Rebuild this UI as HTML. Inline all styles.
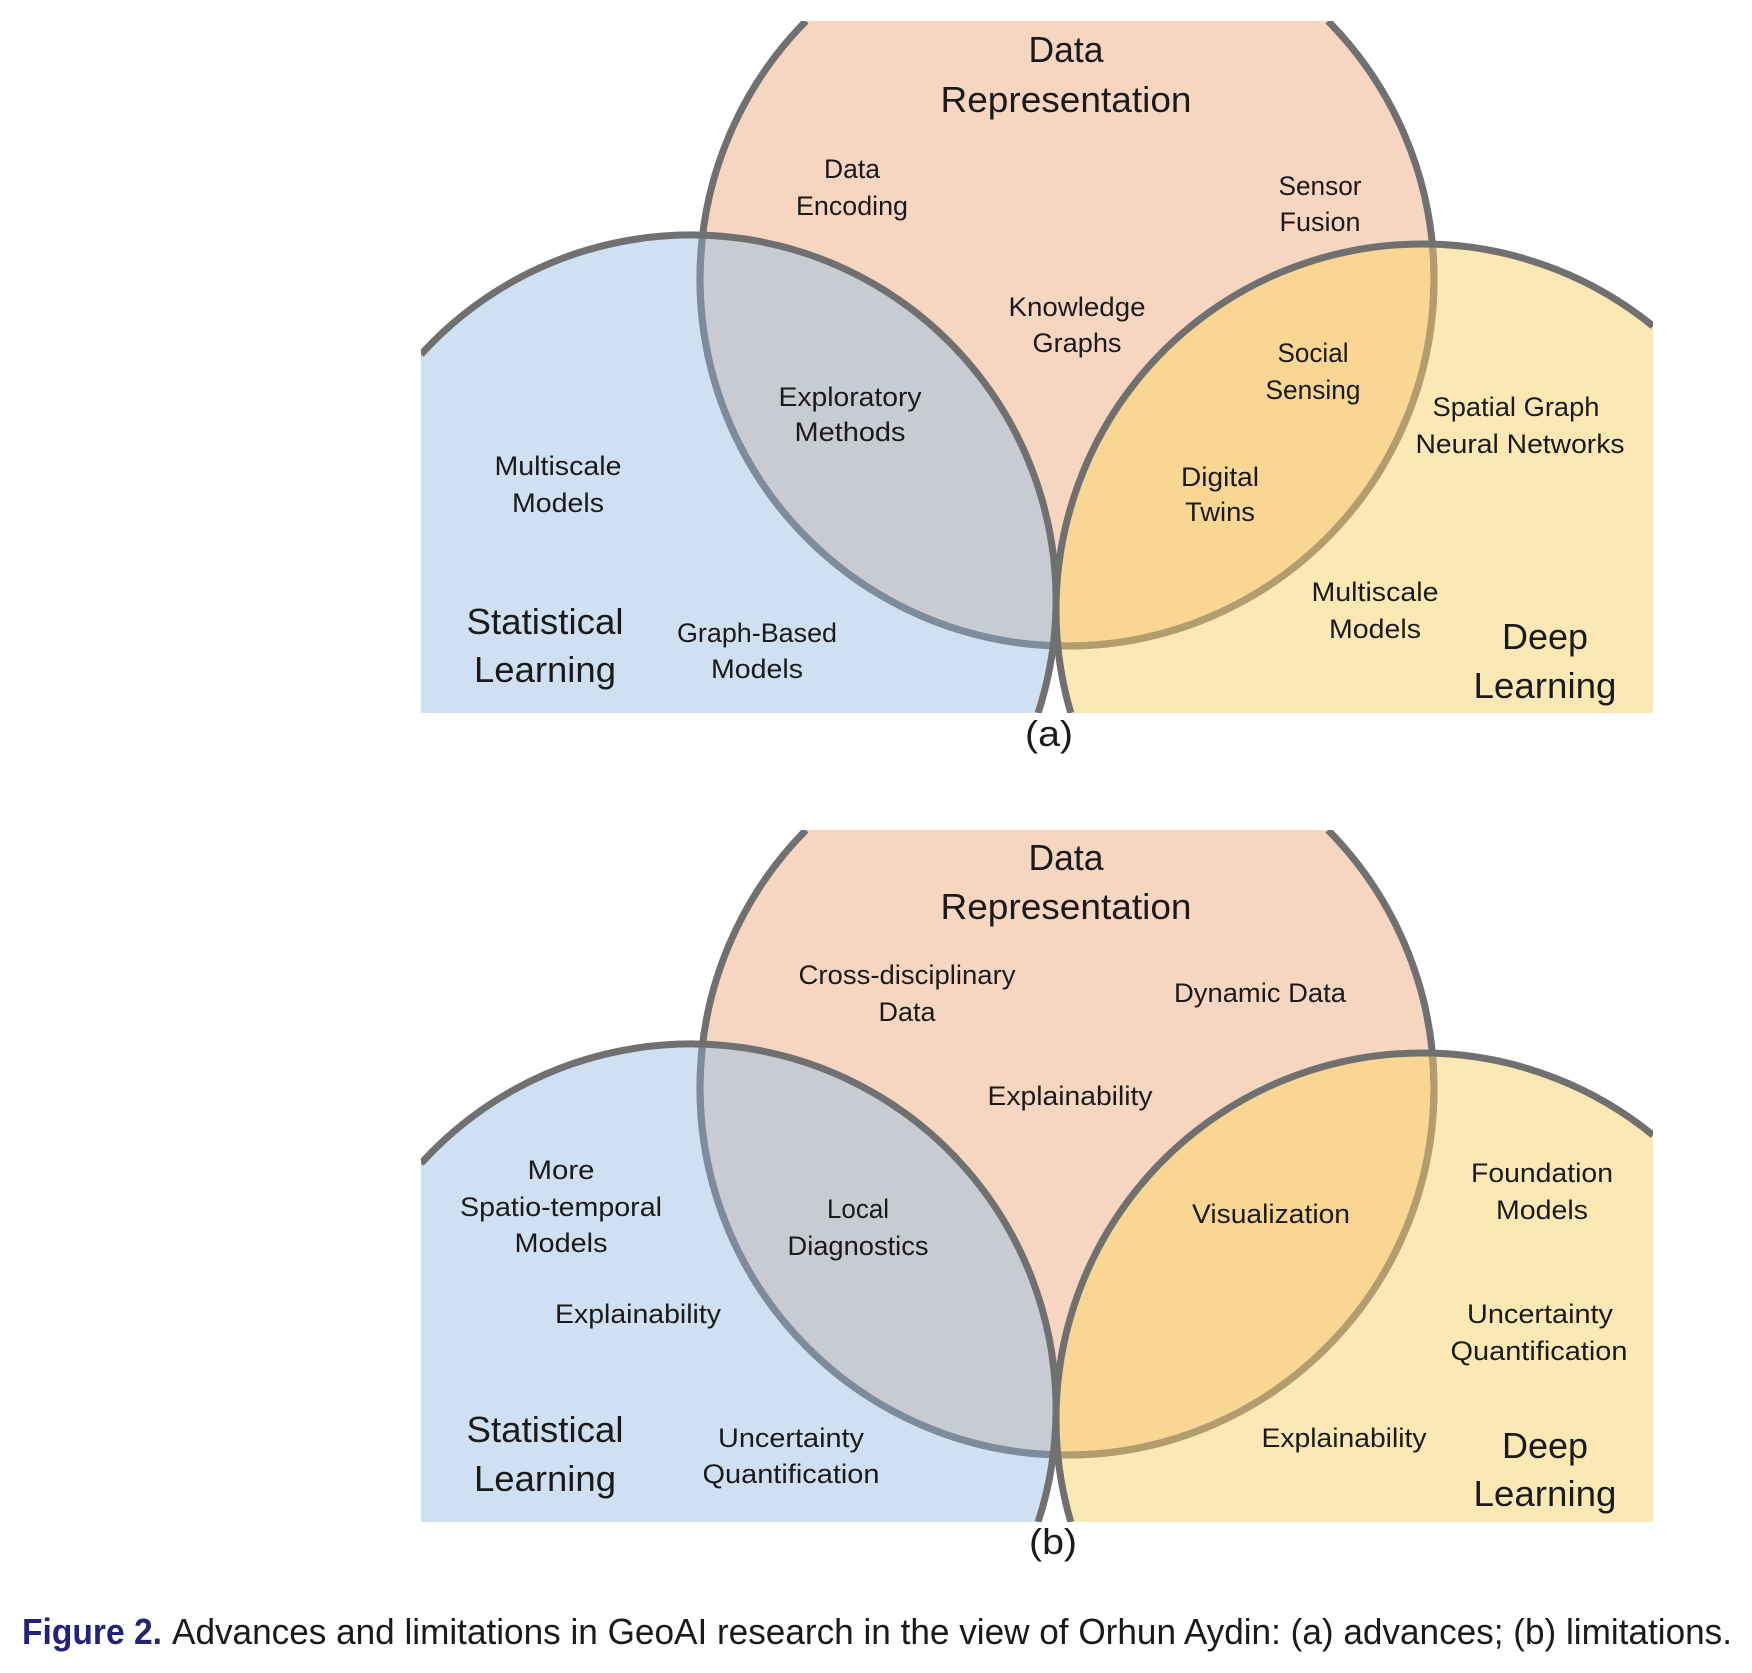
<!DOCTYPE html>
<html>
<head>
<meta charset="utf-8">
<style>
  html, body { margin: 0; padding: 0; background: #ffffff; width: 1752px; height: 1673px; overflow: hidden; }
  svg { display: block; }
  text { font-family: "Liberation Sans", "DejaVu Sans", sans-serif; fill: #1a1a1a; }
  .s { font-size: 27px; }
  .l { font-size: 36px; }
</style>
</head>
<body>
<svg width="1752" height="1673" viewBox="0 0 1752 1673" xmlns="http://www.w3.org/2000/svg">
  <defs>
    <clipPath id="cr"><rect x="421" y="21" width="1232" height="692"/></clipPath>
    <g id="venn">
      <g clip-path="url(#cr)">
        <!-- fills -->
        <path d="M806,21 A367,367 0 1 0 1328,21 Z" fill="#f7d6c1"/>
        <path d="M421,354.4 A365,365 0 0 1 1038.1,713 L421,713 Z" fill="#cee0f1"/>
        <path d="M1070.8,713 A366,366 0 0 1 1653,326.1 L1653,713 Z" fill="#fce8b3"/>
        <path d="M702.7,235.2 A365,365 0 0 1 1053.1,645.8 A367,367 0 0 1 702.7,235.2 Z" fill="#c8cbd1"/>
        <path d="M1432.3,244.1 A367,367 0 0 1 1057.7,645.9 A366,366 0 0 1 1432.3,244.1 Z" fill="#f9d692"/>
        <!-- top circle outline -->
        <path d="M806,21 A367,367 0 1 0 1328,21" fill="none" stroke="#707070" stroke-width="7"/>
        <path d="M702.7,235.2 A367,367 0 0 0 1053.1,645.8" fill="none" stroke="#7d8b9c" stroke-width="7"/>
        <path d="M1057.7,645.9 A367,367 0 0 0 1432.3,244.1" fill="none" stroke="#b39d6c" stroke-width="7"/>
        <!-- blue & yellow outlines -->
        <path d="M421,354.4 A365,365 0 0 1 1038.1,713" fill="none" stroke="#707070" stroke-width="7"/>
        <path d="M1070.8,713 A366,366 0 0 1 1653,326.1" fill="none" stroke="#707070" stroke-width="7"/>
      </g>
    </g>
  </defs>

  <!-- Panel (a) -->
  <use href="#venn" x="0" y="0"/>
  <g text-anchor="middle">
    <text class="l" x="1066" y="62" textLength="75" lengthAdjust="spacingAndGlyphs">Data</text>
    <text class="l" x="1066" y="112" textLength="251" lengthAdjust="spacingAndGlyphs">Representation</text>

    <text class="s" x="852" y="178" textLength="56" lengthAdjust="spacingAndGlyphs">Data</text>
    <text class="s" x="852" y="215" textLength="112" lengthAdjust="spacingAndGlyphs">Encoding</text>

    <text class="s" x="1320" y="195" textLength="83" lengthAdjust="spacingAndGlyphs">Sensor</text>
    <text class="s" x="1320" y="231" textLength="81" lengthAdjust="spacingAndGlyphs">Fusion</text>

    <text class="s" x="1077" y="316" textLength="137" lengthAdjust="spacingAndGlyphs">Knowledge</text>
    <text class="s" x="1077" y="352" textLength="89" lengthAdjust="spacingAndGlyphs">Graphs</text>

    <text class="s" x="850" y="406" textLength="143" lengthAdjust="spacingAndGlyphs">Exploratory</text>
    <text class="s" x="850" y="441" textLength="111" lengthAdjust="spacingAndGlyphs">Methods</text>

    <text class="s" x="1313" y="362" textLength="71" lengthAdjust="spacingAndGlyphs">Social</text>
    <text class="s" x="1313" y="399" textLength="95" lengthAdjust="spacingAndGlyphs">Sensing</text>

    <text class="s" x="1516" y="416" textLength="167" lengthAdjust="spacingAndGlyphs">Spatial Graph</text>
    <text class="s" x="1520" y="453" textLength="209" lengthAdjust="spacingAndGlyphs">Neural Networks</text>

    <text class="s" x="558" y="475" textLength="127" lengthAdjust="spacingAndGlyphs">Multiscale</text>
    <text class="s" x="558" y="512" textLength="92" lengthAdjust="spacingAndGlyphs">Models</text>

    <text class="s" x="1220" y="486" textLength="78" lengthAdjust="spacingAndGlyphs">Digital</text>
    <text class="s" x="1220" y="521" textLength="70" lengthAdjust="spacingAndGlyphs">Twins</text>

    <text class="s" x="1375" y="601" textLength="127" lengthAdjust="spacingAndGlyphs">Multiscale</text>
    <text class="s" x="1375" y="638" textLength="92" lengthAdjust="spacingAndGlyphs">Models</text>

    <text class="l" x="545" y="634" textLength="157" lengthAdjust="spacingAndGlyphs">Statistical</text>
    <text class="l" x="545" y="682" textLength="142" lengthAdjust="spacingAndGlyphs">Learning</text>

    <text class="s" x="757" y="642" textLength="160" lengthAdjust="spacingAndGlyphs">Graph-Based</text>
    <text class="s" x="757" y="678" textLength="92" lengthAdjust="spacingAndGlyphs">Models</text>

    <text class="l" x="1545" y="649" textLength="86" lengthAdjust="spacingAndGlyphs">Deep</text>
    <text class="l" x="1545" y="698" textLength="143" lengthAdjust="spacingAndGlyphs">Learning</text>

    <text x="1049" y="746" style="font-size:36px" textLength="48" lengthAdjust="spacingAndGlyphs">(a)</text>
  </g>

  <!-- Panel (b) -->
  <use href="#venn" x="0" y="809"/>
  <g text-anchor="middle">
    <text class="l" x="1066" y="870" textLength="75" lengthAdjust="spacingAndGlyphs">Data</text>
    <text class="l" x="1066" y="919" textLength="251" lengthAdjust="spacingAndGlyphs">Representation</text>

    <text class="s" x="907" y="984" textLength="217" lengthAdjust="spacingAndGlyphs">Cross-disciplinary</text>
    <text class="s" x="907" y="1021" textLength="57" lengthAdjust="spacingAndGlyphs">Data</text>

    <text class="s" x="1260" y="1002" textLength="172" lengthAdjust="spacingAndGlyphs">Dynamic Data</text>

    <text class="s" x="1070" y="1105" textLength="165" lengthAdjust="spacingAndGlyphs">Explainability</text>

    <text class="s" x="561" y="1179" textLength="67" lengthAdjust="spacingAndGlyphs">More</text>
    <text class="s" x="561" y="1216" textLength="202" lengthAdjust="spacingAndGlyphs">Spatio-temporal</text>
    <text class="s" x="561" y="1252" textLength="93" lengthAdjust="spacingAndGlyphs">Models</text>

    <text class="s" x="858" y="1218" textLength="62" lengthAdjust="spacingAndGlyphs">Local</text>
    <text class="s" x="858" y="1255" textLength="141" lengthAdjust="spacingAndGlyphs">Diagnostics</text>

    <text class="s" x="638" y="1323" textLength="166" lengthAdjust="spacingAndGlyphs">Explainability</text>

    <text class="l" x="545" y="1442" textLength="157" lengthAdjust="spacingAndGlyphs">Statistical</text>
    <text class="l" x="545" y="1491" textLength="142" lengthAdjust="spacingAndGlyphs">Learning</text>

    <text class="s" x="791" y="1447" textLength="146" lengthAdjust="spacingAndGlyphs">Uncertainty</text>
    <text class="s" x="791" y="1483" textLength="177" lengthAdjust="spacingAndGlyphs">Quantification</text>

    <text class="s" x="1271" y="1223" textLength="158" lengthAdjust="spacingAndGlyphs">Visualization</text>

    <text class="s" x="1542" y="1182" textLength="142" lengthAdjust="spacingAndGlyphs">Foundation</text>
    <text class="s" x="1542" y="1219" textLength="92" lengthAdjust="spacingAndGlyphs">Models</text>

    <text class="s" x="1540" y="1323" textLength="146" lengthAdjust="spacingAndGlyphs">Uncertainty</text>
    <text class="s" x="1539" y="1360" textLength="177" lengthAdjust="spacingAndGlyphs">Quantification</text>

    <text class="s" x="1344" y="1447" textLength="165" lengthAdjust="spacingAndGlyphs">Explainability</text>

    <text class="l" x="1545" y="1458" textLength="86" lengthAdjust="spacingAndGlyphs">Deep</text>
    <text class="l" x="1545" y="1506" textLength="143" lengthAdjust="spacingAndGlyphs">Learning</text>

    <text x="1053" y="1554" style="font-size:36px" textLength="48" lengthAdjust="spacingAndGlyphs">(b)</text>
  </g>

  <!-- Caption -->
  <text x="22" y="1644" style="font-size:36px; font-weight:bold; fill:#22227d" textLength="140" lengthAdjust="spacingAndGlyphs">Figure 2.</text>
  <text x="172" y="1644" style="font-size:36px" textLength="1560" lengthAdjust="spacingAndGlyphs">Advances and limitations in GeoAI research in the view of Orhun Aydin: (a) advances; (b) limitations.</text>
</svg>
</body>
</html>
